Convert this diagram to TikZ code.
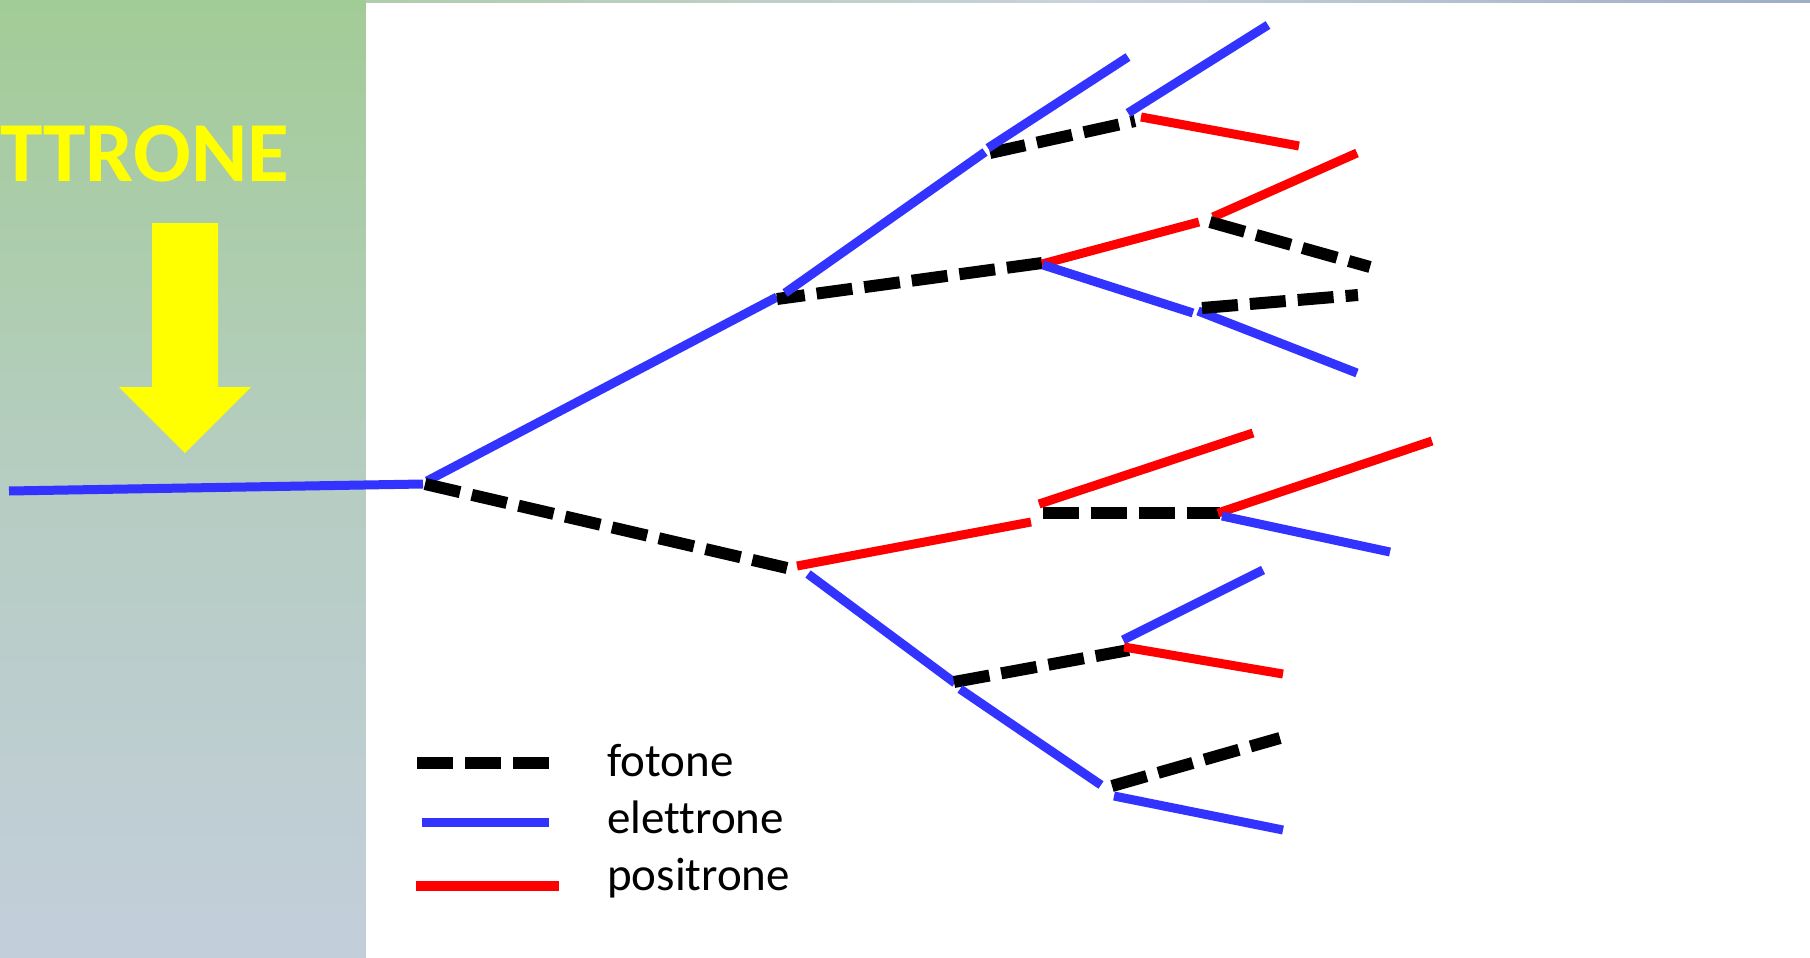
\documentclass[tikz,border=0pt]{standalone}
\usepackage{fontspec}
\setmainfont{Carlito}[Ligatures=NoCommon]
\definecolor{eblue}{RGB}{51,51,255}
\definecolor{pred}{RGB}{255,0,0}
\definecolor{pyellow}{RGB}{255,255,0}
\definecolor{bgtop}{RGB}{162,204,150}
\definecolor{bgmid}{RGB}{182,205,194}
\definecolor{bgbot}{RGB}{195,206,219}
\definecolor{stripL}{RGB}{176,205,172}
\definecolor{stripM}{RGB}{200,210,220}
\definecolor{stripR}{RGB}{158,175,195}
\tikzset{
  electron/.style={draw=eblue, line width=9pt, line cap=butt},
  positron/.style={draw=pred, line width=9pt, line cap=butt},
  photon/.style={draw=black, line width=12pt, line cap=butt, dash pattern=on 36pt off 12pt},
  legendtext/.style={font=\fontsize{47}{50}\selectfont, anchor=base west, inner sep=0pt, text=black},
}
\begin{document}
\begin{tikzpicture}[x=1pt,y=-1pt]
\useasboundingbox (0,0) rectangle (1810,958);
% background
\shade[top color=bgtop, bottom color=bgbot, middle color=bgmid] (0,0) rectangle (366,958);
\shade[left color=stripL, right color=stripR, middle color=stripM] (366,0) rectangle (1810,3);
\fill[white] (366,3) rectangle (1810,958);
% title fragment and arrow
\node[anchor=base west, inner sep=0pt, text=pyellow, font=\fontsize{85.5}{90}\selectfont\bfseries] (title) at (0,181) {TTRONE};
\fill[pyellow] (152,223) -- (218,223) -- (218,387) -- (251,387) -- (185,453) -- (119,387) -- (152,387) -- cycle;
% coordinates
\coordinate (in0) at (9,491);   \coordinate (v0) at (423,484);
\coordinate (e1a) at (427,481); \coordinate (e1b) at (777,297);
\coordinate (g1a) at (425,484); \coordinate (g1b) at (787,568);
\coordinate (g2a) at (777,299); \coordinate (g2b) at (1042,263);
\coordinate (e2a) at (785,293); \coordinate (e2b) at (985,152);
\coordinate (g3a) at (990,153); \coordinate (g3b) at (1135,121);
\coordinate (e3a) at (988,148); \coordinate (e3b) at (1128,57);
\coordinate (e4a) at (1128,113); \coordinate (e4b) at (1268,25);
\coordinate (p4a) at (1141,117); \coordinate (p4b) at (1299,146);
\coordinate (p5a) at (1042,264); \coordinate (p5b) at (1199,222);
\coordinate (e5a) at (1043,265); \coordinate (e5b) at (1193,313);
\coordinate (p6a) at (1213,217); \coordinate (p6b) at (1357,153);
\coordinate (g6a) at (1210,222); \coordinate (g6b) at (1370,267);
\coordinate (e6a) at (1198,311); \coordinate (e6b) at (1357,373);
\coordinate (g7a) at (1202,308); \coordinate (g7b) at (1358,295);
\coordinate (p8a) at (797,566); \coordinate (p8b) at (1031,522);
\coordinate (e8a) at (808,574); \coordinate (e8b) at (955,683);
\coordinate (p9a) at (1039,504); \coordinate (p9b) at (1253,433);
\coordinate (g9a) at (1043,513); \coordinate (g9b) at (1220,513);
\coordinate (p10a) at (1218,513); \coordinate (p10b) at (1432,441);
\coordinate (e10a) at (1222,516); \coordinate (e10b) at (1390,552);
\coordinate (g11a) at (954,682); \coordinate (g11b) at (1129,650);
\coordinate (e11a) at (1123,640); \coordinate (e11b) at (1263,570);
\coordinate (p11a) at (1124,647); \coordinate (p11b) at (1283,674);
\coordinate (e12a) at (960,689); \coordinate (e12b) at (1101,785);
\coordinate (g12a) at (1112,786); \coordinate (g12b) at (1280,738);
\coordinate (e13a) at (1114,796); \coordinate (e13b) at (1283,830);
% shower
\draw[electron] (in0) -- (v0);
\draw[electron] (e1a) -- (e1b);
\draw[photon] (g1a) -- (g1b);
\draw[photon, dash phase=8pt] (g2a) -- (g2b);
\draw[electron] (e2a) -- (e2b);
\draw[photon] (g3a) -- (g3b);
\draw[electron] (e3a) -- (e3b);
\draw[electron] (e4a) -- (e4b);
\draw[positron] (p4a) -- (p4b);
\draw[positron] (p5a) -- (p5b);
\draw[electron] (e5a) -- (e5b);
\draw[positron] (p6a) -- (p6b);
\draw[photon] (g6a) -- (g6b);
\draw[electron] (e6a) -- (e6b);
\draw[photon] (g7a) -- (g7b);
\draw[positron] (p8a) -- (p8b);
\draw[electron] (e8a) -- (e8b);
\draw[positron] (p9a) -- (p9b);
\draw[photon] (g9a) -- (g9b);
\draw[positron] (p10a) -- (p10b);
\draw[electron] (e10a) -- (e10b);
\draw[photon] (g11a) -- (g11b);
\draw[electron] (e11a) -- (e11b);
\draw[positron] (p11a) -- (p11b);
\draw[electron] (e12a) -- (e12b);
\draw[photon] (g12a) -- (g12b);
\draw[electron] (e13a) -- (e13b);
% legend
\coordinate (lg1a) at (417,763); \coordinate (lg1b) at (549,763);
\coordinate (lg2a) at (422,822); \coordinate (lg2b) at (549,822);
\coordinate (lg3a) at (416,886); \coordinate (lg3b) at (559,886);
\draw[photon] (lg1a) -- (lg1b);
\draw[electron] (lg2a) -- (lg2b);
\draw[positron, line width=10pt] (lg3a) -- (lg3b);
\node[legendtext] (tfot) at (607,776) {fotone};
\node[legendtext] (tele) at (607,833) {elettrone};
\node[legendtext] (tpos) at (607,890) {positrone};
\end{tikzpicture}
\end{document}
